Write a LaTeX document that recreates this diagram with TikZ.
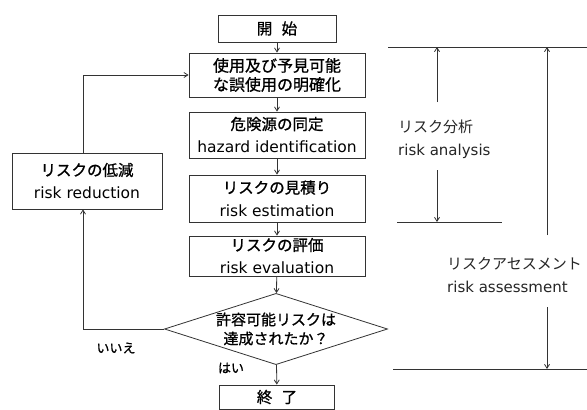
\documentclass[tikz,border=0pt]{standalone}
\usepackage{fontspec}
\setmainfont{DejaVu Sans}
\newfontfamily\jp{Noto Sans CJK JP}
\newfontfamily\jpb{Noto Sans CJK JP}[FakeBold=0.9]
\usetikzlibrary{arrows.meta,shapes.geometric}
\begin{document}
\begin{tikzpicture}[x=1pt,y=-1pt,
  ln/.style={draw=black!80,line width=0.8pt},
  arr/.style={ln,-{Straight Barb[length=4pt,width=5pt]}},
  box/.style={ln,rectangle,inner sep=0pt,align=center,font=\fontsize{15.5}{23}\selectfont},
  lbl/.style={align=left,inner sep=0pt,font=\fontsize{15}{22}\selectfont,text=black!85}]
\useasboundingbox[fill=white] (0,0) rectangle (587,410);
% main column
\node[box,minimum width=118pt,minimum height=27pt] (start) at (277,28.5) {\jpb 開\hspace{0.6em}始};
\node[box,minimum width=176pt,minimum height=44pt,font=\jpb\fontsize{16}{19}\selectfont] (clar) at (277,75) {使用及び予見可能\\な誤使用の明確化};
\node[box,minimum width=176pt,minimum height=46pt] (haz) at (277,135) {{\jpb 危険源の同定}\\hazard identification};
\node[box,minimum width=176pt,minimum height=47pt] (est) at (277,198.5) {{\jpb リスクの見積り}\\risk estimation};
\node[box,minimum width=176pt,minimum height=40pt] (eva) at (277,256) {{\jpb リスクの評価}\\risk evaluation};
\node[ln,diamond,aspect=3.13,inner sep=0pt,minimum width=213pt,minimum height=68pt,align=center,font=\jpb\fontsize{15}{19}\selectfont] (dec) at (276,329) {許容可能リスクは\\達成されたか？};
\node[box,minimum width=115pt,minimum height=24pt] (end) at (277,397) {\jpb 終\hspace{0.6em}了};
\node[box,minimum width=150pt,minimum height=56pt] (red) at (87,181) {{\jpb リスクの低減}\\risk reduction};
% connectors
\draw[arr] (start) -- (clar);
\draw[arr] (clar) -- (haz);
\draw[arr] (haz) -- (est);
\draw[arr] (est) -- (eva);
\draw[arr] (eva) -- (dec);
\draw[arr] (dec) -- (end);
\coordinate (c1) at (83,328);
\coordinate (c2) at (83,75);
\draw[arr] (dec.west) -- (c1 |- dec.west) -- (red.south -| c1);
\draw[arr] (red.north -| c2) -- (c2) -- (clar.west);
\node[font=\jpb\fontsize{13}{15}\selectfont,inner sep=0pt] (no) at (116,348) {いいえ};
\node[font=\jpb\fontsize{13}{15}\selectfont,inner sep=0pt] (yes) at (231,368) {はい};
% right side
\coordinate (t1) at (388,47); \coordinate (t2) at (587,47);
\coordinate (m1) at (397,222); \coordinate (m2) at (502,222);
\coordinate (b1) at (393,369); \coordinate (b2) at (587,369);
\draw[ln] (t1) -- (t2);
\draw[ln] (m1) -- (m2);
\draw[ln] (b1) -- (b2);
\node[lbl,anchor=west] (ra) at (398,139) {{\jp リスク分析}\\[1pt]risk analysis};
\node[lbl,anchor=west] (ras) at (447,275) {{\jp リスクアセスメント}\\[1pt]risk assessment};
\coordinate (ra1) at (437,102); \coordinate (ra2) at (437,170);
\draw[arr] (ra1) -- (ra1 |- t1);
\draw[arr] (ra2) -- (ra2 |- m1);
\coordinate (as1) at (547,235); \coordinate (as2) at (547,307);
\draw[arr] (as1) -- (as1 |- t1);
\draw[arr] (as2) -- (as2 |- b1);
\end{tikzpicture}
\end{document}
